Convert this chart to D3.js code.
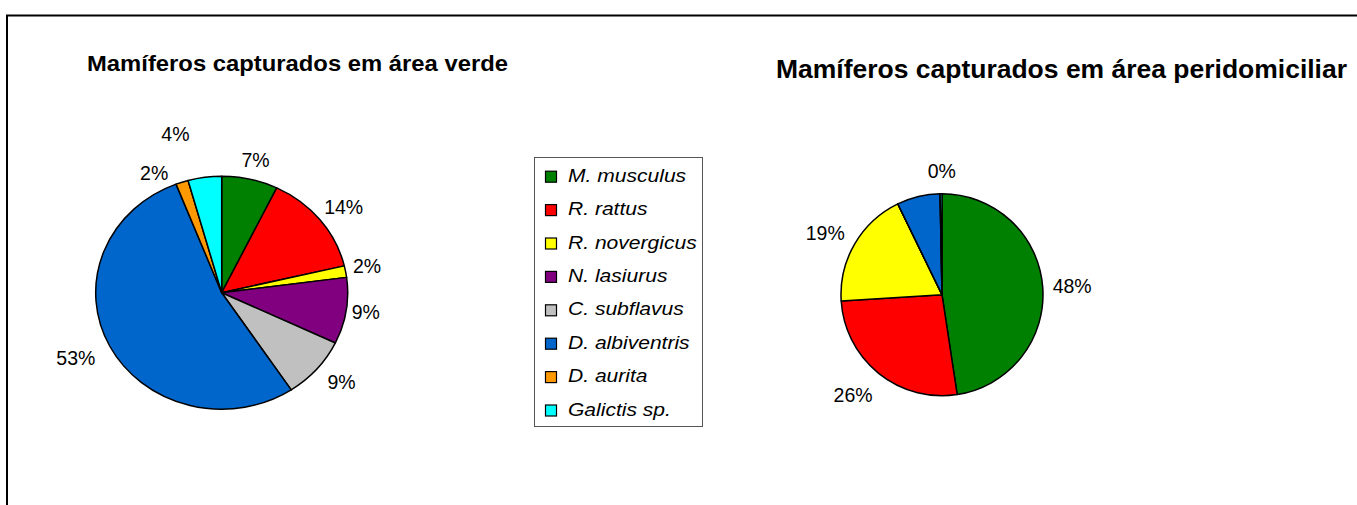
<!DOCTYPE html>
<html>
<head>
<meta charset="utf-8">
<script src="https://cdn.jsdelivr.net/npm/d3@7"></script>
<style>
  body { margin: 0; background: #fff; }
  text { font-family: Arial, "Liberation Sans", sans-serif; fill: #000; }
</style>
</head>
<body>
<div id="chart"></div>
<script>
// species, in legend order
var species = ["M. musculus", "R. rattus", "R. novergicus", "N. lasiurus",
               "C. subflavus", "D. albiventris", "D. aurita", "Galictis sp."];
var colors = ["#008000", "#ff0000", "#ffff00", "#800080",
              "#c0c0c0", "#0066cc", "#ff9900", "#00ffff"];

// share of captures (%), green area
var verde = [7.2, 14.1, 1.6, 9.2, 8.6, 53.4, 1.6, 4.3];
var verdeLabels = ["7%", "14%", "2%", "9%", "9%", "53%", "2%", "4%"];

// share of captures (%), peridomiciliar area
var peri = [47.6, 26.4, 18.8, 0, 0, 6.9, 0, 0.3];
var periLabels = ["48%", "26%", "19%", "", "", "", "", "0%"];

var W = 1357, H = 505;

var svg = d3.select("#chart")
    .append("svg")
    .attr("width", W)
    .attr("height", H);

// frame (only top and left edges are visible in the crop)
svg.append("path")
    .attr("d", "M7," + H + "V15.5H" + W)
    .attr("fill", "none")
    .attr("stroke", "#000")
    .attr("stroke-width", 2);

// titles
svg.append("text")
    .attr("x", 87)
    .attr("y", 71)
    .attr("font-size", 21.5)
    .attr("font-weight", "bold")
    .attr("textLength", 421)
    .attr("lengthAdjust", "spacingAndGlyphs")
    .text("Mamíferos capturados em área verde");

svg.append("text")
    .attr("x", 776)
    .attr("y", 78)
    .attr("font-size", 26.5)
    .attr("font-weight", "bold")
    .attr("textLength", 571)
    .attr("lengthAdjust", "spacingAndGlyphs")
    .text("Mamíferos capturados em área peridomiciliar");

var pie = d3.pie().sort(null).value(function(d) { return d; });

function drawPie(values, labels, nudges, cx, cy, r, sx) {
    var arcs = pie(values);
    var arc = d3.arc().innerRadius(0).outerRadius(r);

    var g = svg.append("g")
        .attr("transform", "translate(" + cx + "," + cy + ")");

    g.append("g")
        .attr("transform", "scale(" + sx + ",1)")
        .selectAll("path")
        .data(arcs)
        .join("path")
        .attr("d", arc)
        .attr("fill", function(d, i) { return colors[i]; })
        .attr("stroke", "#000")
        .attr("stroke-width", 1.5)
        .attr("stroke-linejoin", "round")
        .attr("vector-effect", "non-scaling-stroke");

    // labels sit just outside the rim, pushed out by half their size
    var gap = 10, hh = 10;
    g.selectAll("text.lbl")
        .data(arcs)
        .join("text")
        .attr("class", "lbl")
        .attr("font-size", 19.5)
        .attr("text-anchor", "middle")
        .text(function(d, i) { return labels[i]; })
        .each(function(d, i) {
            var a = (d.startAngle + d.endAngle) / 2;
            var s = Math.sin(a), c = -Math.cos(a);
            var w = this.getComputedTextLength();
            var x = s * (r + gap) * sx + s * w / 2 + nudges[i][0];
            var y = c * (r + gap) + c * hh + nudges[i][1];
            d3.select(this).attr("x", x).attr("y", y + 7);
        });
}

// hand-moved labels, as in the original chart
var verdeNudge = [[0, 0], [0, 0], [-3, -2], [-5, -2], [6, 0], [-7, 3], [-20, 10], [-26, -23]];
var periNudge = [[0, 0], [-7, 6], [-4, -1], [0, 0], [0, 0], [0, 0], [0, 0], [1, -3]];

drawPie(verde, verdeLabels, verdeNudge, 221.7, 292.7, 116.5, 126 / 116.5);
drawPie(peri, periLabels, periNudge, 942, 294.7, 101, 1);

// legend
var legend = svg.append("g").attr("transform", "translate(534,157)");
legend.append("rect")
    .attr("x", 0.5)
    .attr("y", 0.5)
    .attr("width", 168)
    .attr("height", 269)
    .attr("fill", "#fff")
    .attr("stroke", "#555")
    .attr("stroke-width", 1);

var item = legend.selectAll("g.item")
    .data(species)
    .join("g")
    .attr("class", "item")
    .attr("transform", function(d, i) { return "translate(0," + (24.7 + i * 33.4) + ")"; });

item.append("rect")
    .attr("x", 11.5)
    .attr("y", -10.5)
    .attr("width", 11)
    .attr("height", 11)
    .attr("fill", function(d, i) { return colors[i]; })
    .attr("stroke", "#000")
    .attr("stroke-width", 1.2);

item.append("text")
    .attr("transform", "translate(34,0) scale(1.19,1)")
    .attr("font-size", 17.7)
    .attr("font-style", "italic")
    .text(function(d) { return d; });
</script>
</body>
</html>
